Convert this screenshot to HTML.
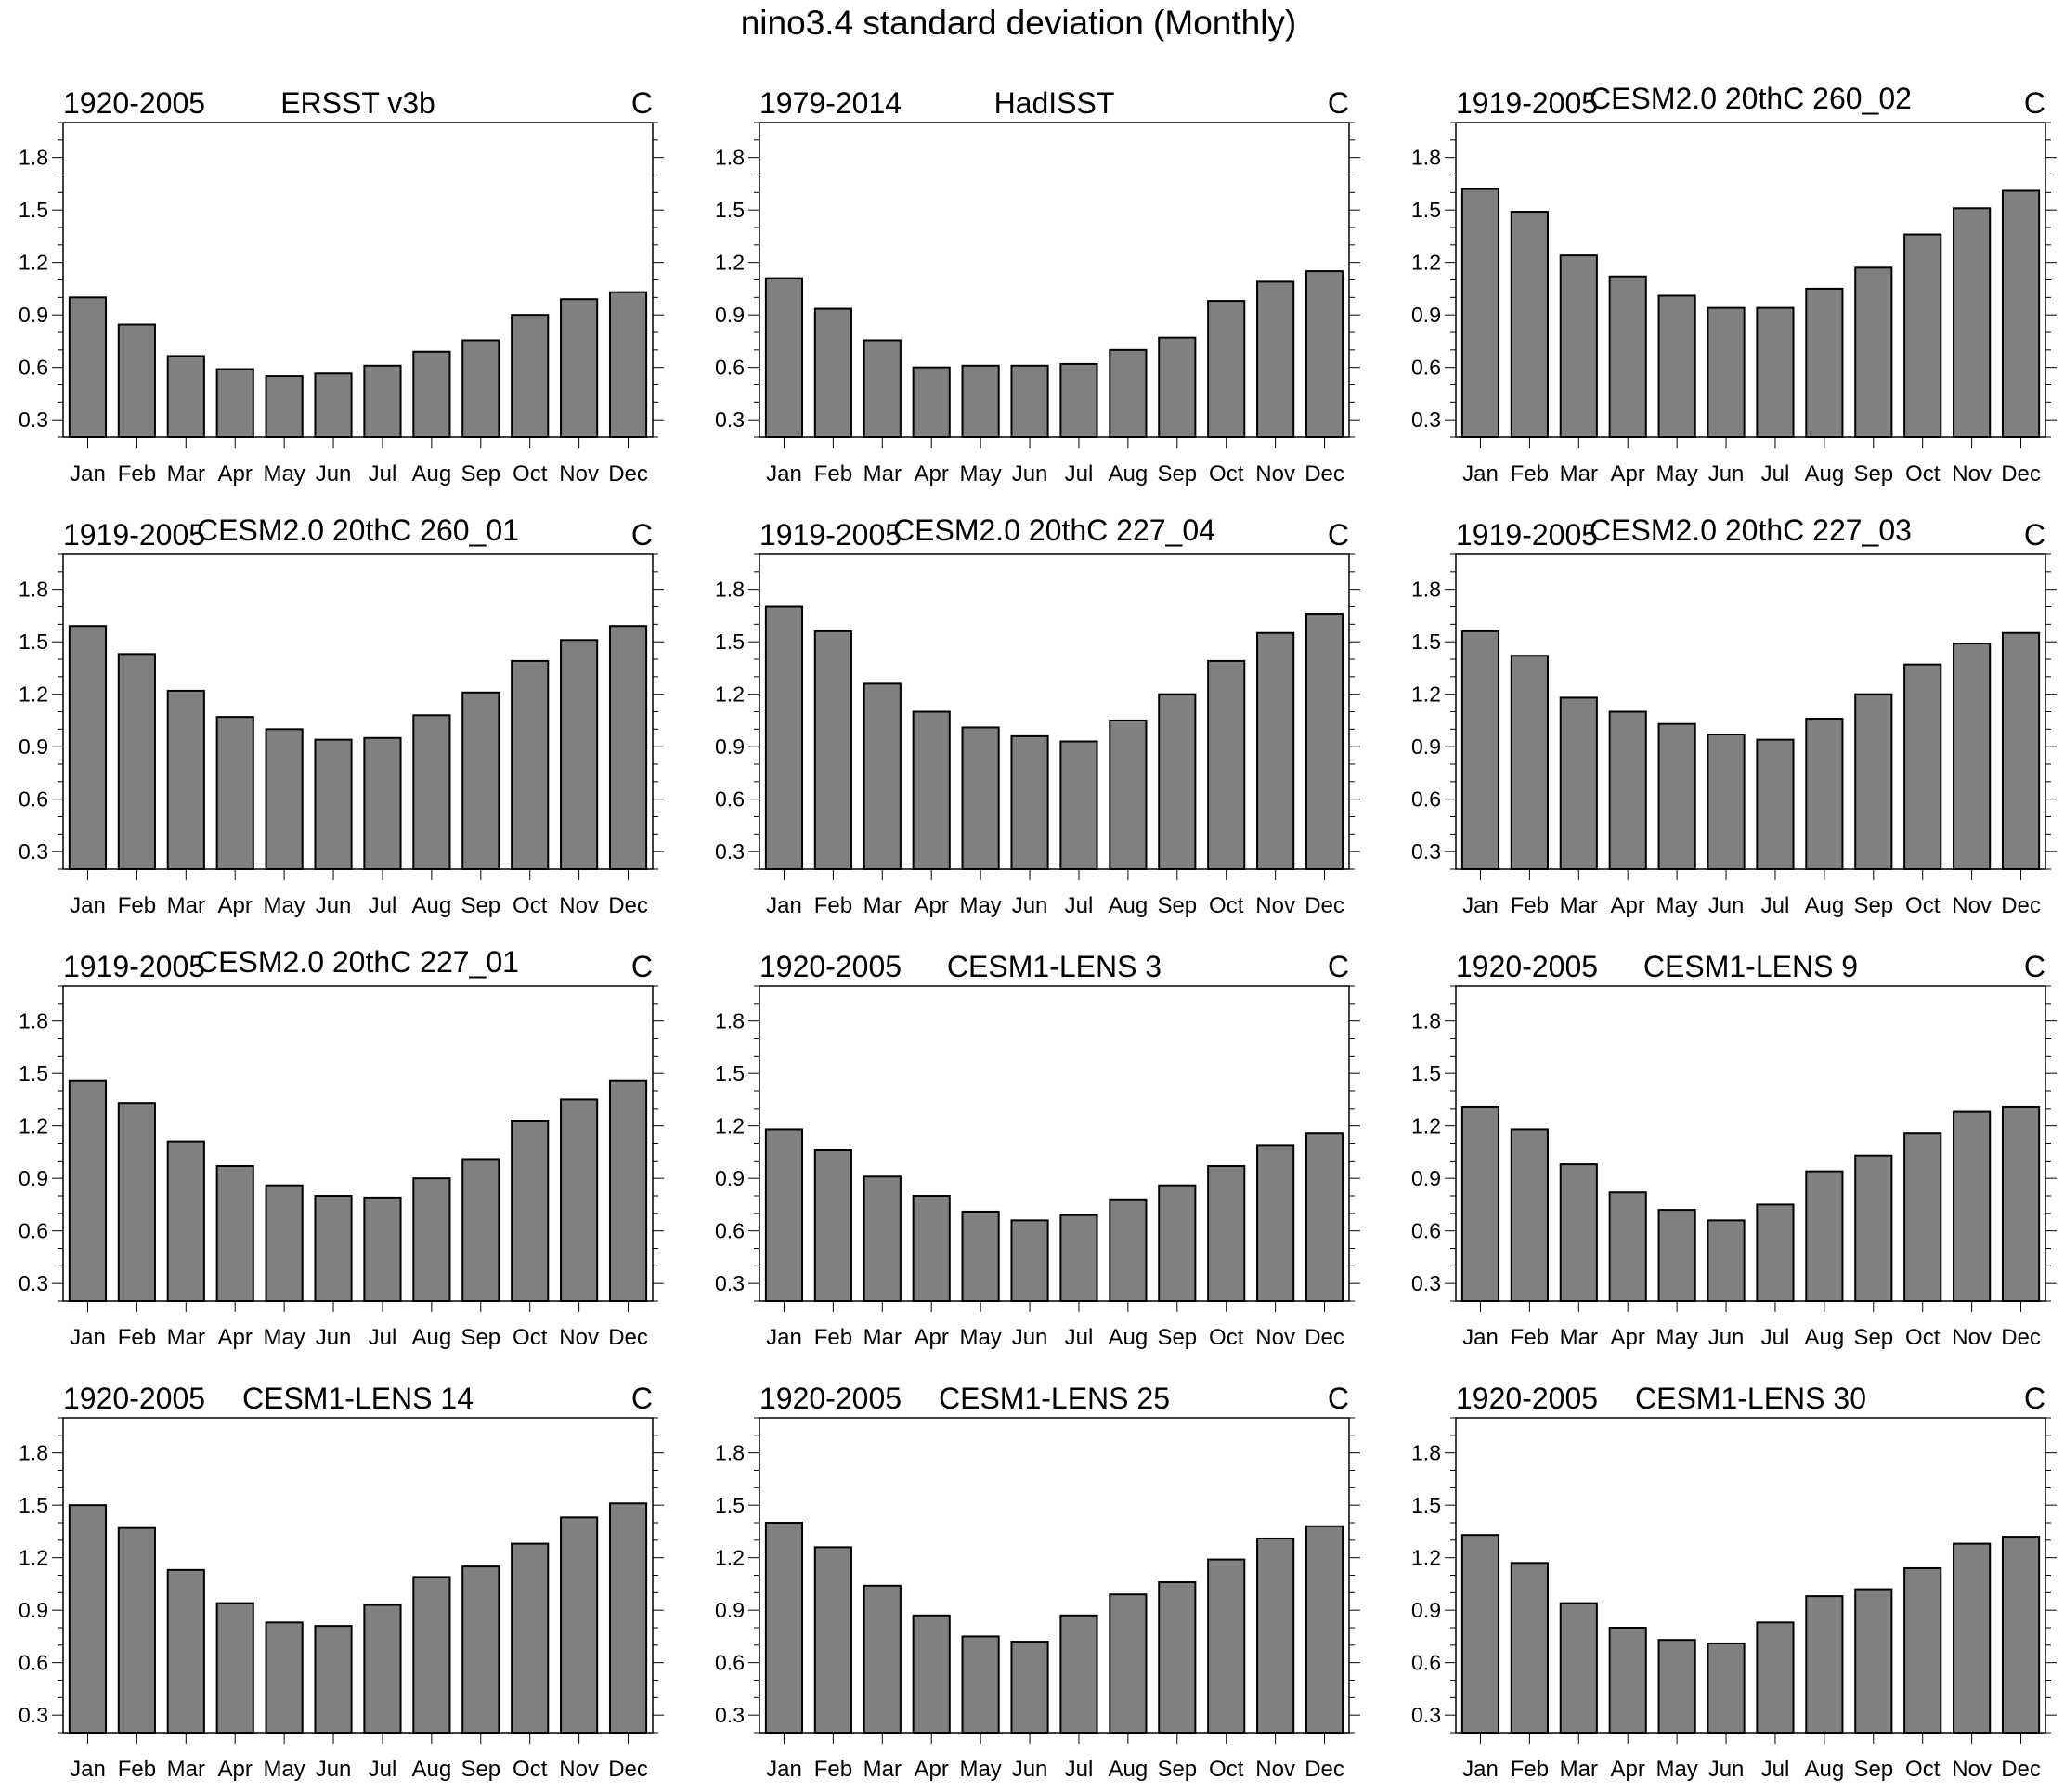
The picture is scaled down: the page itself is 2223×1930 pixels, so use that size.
<!DOCTYPE html>
<html><head><meta charset="utf-8"><style>
html,body{margin:0;padding:0;background:#fff}
svg{display:block;font-family:"Liberation Sans",Arial,sans-serif}
</style></head><body>
<svg id="c" width="2223" height="1930" viewBox="0 0 2223 1930" xmlns="http://www.w3.org/2000/svg">
<text x="1097" y="37" font-size="37" text-anchor="middle">nino3.4 standard deviation (Monthly)</text>
</svg>
<script>
const months = ["Jan","Feb","Mar","Apr","May","Jun","Jul","Aug","Sep","Oct","Nov","Dec"];
const yTicks = [0.3,0.6,0.9,1.2,1.5,1.8];
const yTickLabels = ["0.3","0.6","0.9","1.2","1.5","1.8"];
const panelNames = ["ERSST v3b","HadISST","CESM2.0 20thC 260_02","CESM2.0 20thC 260_01","CESM2.0 20thC 227_04","CESM2.0 20thC 227_03","CESM2.0 20thC 227_01","CESM1-LENS 3","CESM1-LENS 9","CESM1-LENS 14","CESM1-LENS 25","CESM1-LENS 30"];
const panelYears = ["1920-2005","1979-2014","1919-2005","1919-2005","1919-2005","1919-2005","1919-2005","1920-2005","1920-2005","1920-2005","1920-2005","1920-2005"];
const vErsst = [1.0,0.845,0.665,0.59,0.55,0.565,0.61,0.69,0.755,0.9,0.99,1.03];
const vHadisst = [1.11,0.935,0.755,0.6,0.61,0.61,0.62,0.70,0.77,0.98,1.09,1.15];
const v260_02 = [1.62,1.49,1.24,1.12,1.01,0.94,0.94,1.05,1.17,1.36,1.51,1.61];
const v260_01 = [1.59,1.43,1.22,1.07,1.0,0.94,0.95,1.08,1.21,1.39,1.51,1.59];
const v227_04 = [1.70,1.56,1.26,1.10,1.01,0.96,0.93,1.05,1.20,1.39,1.55,1.66];
const v227_03 = [1.56,1.42,1.18,1.10,1.03,0.97,0.94,1.06,1.20,1.37,1.49,1.55];
const v227_01 = [1.46,1.33,1.11,0.97,0.86,0.80,0.79,0.90,1.01,1.23,1.35,1.46];
const vLens3 = [1.18,1.06,0.91,0.80,0.71,0.66,0.69,0.78,0.86,0.97,1.09,1.16];
const vLens9 = [1.31,1.18,0.98,0.82,0.72,0.66,0.75,0.94,1.03,1.16,1.28,1.31];
const vLens14 = [1.50,1.37,1.13,0.94,0.83,0.81,0.93,1.09,1.15,1.28,1.43,1.51];
const vLens25 = [1.40,1.26,1.04,0.87,0.75,0.72,0.87,0.99,1.06,1.19,1.31,1.38];
const vLens30 = [1.33,1.17,0.94,0.80,0.73,0.71,0.83,0.98,1.02,1.14,1.28,1.32];
const allSeries = [vErsst,vHadisst,v260_02,v260_01,v227_04,v227_03,v227_01,vLens3,vLens9,vLens14,vLens25,vLens30];

const NS="http://www.w3.org/2000/svg";
const svg=document.getElementById('c');
function mk(tag,attrs,parent){const e=document.createElementNS(NS,tag);for(const k in attrs)e.setAttribute(k,attrs[k]);(parent||svg).appendChild(e);return e;}
const colX=[68,818,1568], rowY=[132,597,1062,1527], W=635, H=339;
const yMin=0.2,yMax=2.0;
for(let p=0;p<12;p++){
  const L=colX[p%3], T=rowY[Math.floor(p/3)], B=T+H, R=L+W;
  const g=mk('g',{});
  
  
  const ys=v=>B-(v-yMin)/(yMax-yMin)*H;
  const xs=i=>L+(i+0.5)*W/12;
  const vals=allSeries[p];
  vals.forEach((v,i)=>{
    const bw=W/12*0.74;
    const r=mk('rect',{x:xs(i)-bw/2,y:ys(v),width:bw,height:B-ys(v),fill:'#808080',stroke:'#000','stroke-width':2},g);
    
    
  });
  const fr=mk('rect',{x:L,y:T,width:W,height:H,fill:'none',stroke:'#000','stroke-width':1.5},g);
  
  
  for(let k=2;k<=20;k++){
    const v=k/10, y=ys(v), maj=(k%3===0);
    const len=maj?12:6;
    mk('line',{x1:L-len,x2:L,y1:y,y2:y,stroke:'#000','stroke-width':1},g);
    mk('line',{x1:R,x2:R+len,y1:y,y2:y,stroke:'#000','stroke-width':1},g);
  }
  yTicks.forEach((v,i)=>{
    const t=mk('text',{x:L-16,y:ys(v)+8,'font-size':23,'text-anchor':'end'},g);
    t.textContent=yTickLabels[i];
    
    
  });
  months.forEach((m,i)=>{
    mk('line',{x1:xs(i),x2:xs(i),y1:B,y2:B+12,stroke:'#000','stroke-width':1},g);
    const t=mk('text',{x:xs(i),y:B+47,'font-size':24,'text-anchor':'middle'},g);
    t.textContent=m;
    
    
  });
  const isC2=panelNames[p].startsWith('CESM2');
  const t1=mk('text',{x:L,y:T-10,'font-size':32},g);
  t1.textContent=panelYears[p];
  
  
  const t2=mk('text',{x:L+W/2,y:T-(isC2?15:10),'font-size':32,'text-anchor':'middle'},g);
  t2.textContent=panelNames[p];
  
  
  const t3=mk('text',{x:R,y:T-10,'font-size':32,'text-anchor':'end'},g);
  t3.textContent='C';
  
  
}
</script>
</body></html>
